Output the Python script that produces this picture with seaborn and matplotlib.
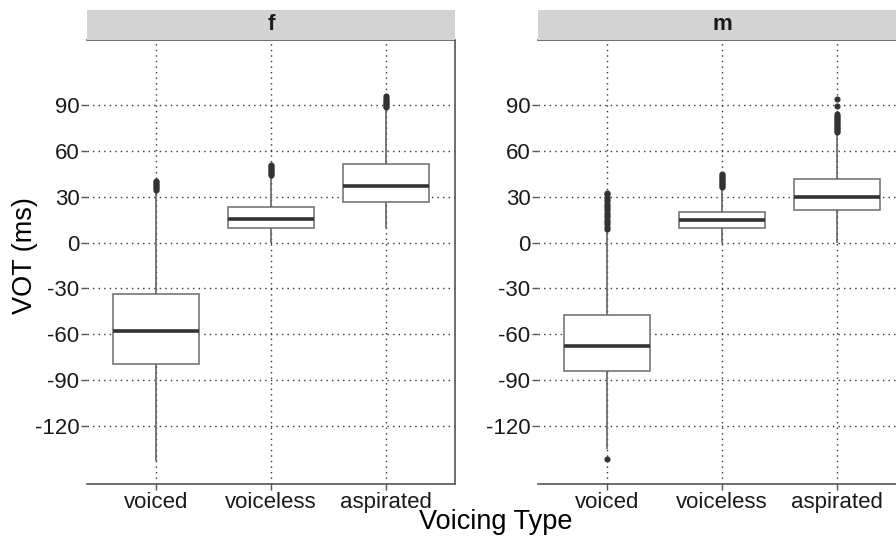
import numpy as np
import pandas as pd
import matplotlib
matplotlib.use("Agg")
import matplotlib.pyplot as plt
import seaborn as sns

# ---- data (ms) ----
genders = ["f", "m"]
voicing = ["voiced", "voiceless", "aspirated"]

# five-number summaries per gender, in order of `voicing`
f_whisk_lo = [-142.6, 0.0, 9.6]
f_q1 = [-79.1, 9.8, 26.7]
f_median = [-57.8, 15.2, 37.0]
f_q3 = [-33.9, 23.3, 51.3]
f_whisk_hi = [31.5, 42.5, 87.5]
f_outliers = [
    [33.5, 34.5, 35.5, 36.5, 37.5, 38.5, 39.5, 40.5],
    [44.0, 45.0, 46.0, 47.0, 48.0, 49.0, 50.0, 51.0],
    [88.5, 89.5, 90.5, 91.5, 92.5, 93.5, 94.5, 95.5],
]

m_whisk_lo = [-135.0, 0.0, 0.0]
m_q1 = [-84.1, 9.8, 21.5]
m_median = [-67.8, 14.5, 30.0]
m_q3 = [-47.2, 20.2, 41.3]
m_whisk_hi = [7.8, 34.5, 70.5]
m_outliers = [
    [-141.5, 9.0, 10.5, 12.0, 13.5, 15.0, 16.5, 18.0, 19.5, 21.0, 22.5,
     24.0, 25.5, 27.0, 28.5, 30.0, 31.5, 32.5],
    [36.0, 37.0, 38.0, 39.0, 40.0, 41.0, 42.0, 43.0, 44.0, 45.0],
    [72.0, 73.0, 74.0, 75.0, 76.0, 77.0, 78.0, 79.0, 80.0, 81.0, 82.0,
     83.0, 84.0, 89.0, 93.8],
]

yticks = [-120, -90, -60, -30, 0, 30, 60, 90]

summaries = {
    "f": (f_whisk_lo, f_q1, f_median, f_q3, f_whisk_hi, f_outliers),
    "m": (m_whisk_lo, m_q1, m_median, m_q3, m_whisk_hi, m_outliers),
}

# Build observation rows that reproduce each summary exactly
# (quartile values are repeated so the quantiles land on them).
rows = []
REP = 30
for g in genders:
    lo, q1, med, q3, hi, outs = summaries[g]
    for i, v in enumerate(voicing):
        vals = [lo[i]] + [q1[i]] * REP + [med[i]] * REP + [q3[i]] * REP + [hi[i]] + outs[i]
        for x in vals:
            rows.append((g, v, x))
df = pd.DataFrame(rows, columns=["gender", "type", "vot"])

# ---- style ----
sns.set_theme(style="white")
plt.rcParams["font.family"] = ["Liberation Sans", "DejaVu Sans"]

W, H = 896, 538
fig = plt.figure(figsize=(W / 100, H / 100), dpi=100)
fig.patch.set_facecolor("white")

panel_w = 368
panel_top, panel_bot = 40, 484
lefts = [87, 538]

for g, lx in zip(genders, lefts):
    ax = fig.add_axes([lx / W, (H - panel_bot) / H, panel_w / W, (panel_bot - panel_top) / H])
    sub = df[df["gender"] == g]
    sns.boxplot(
        data=sub, x="type", y="vot", order=voicing, ax=ax,
        width=0.75, color="white", linecolor="#666666", linewidth=1.0,
        showcaps=False, fliersize=3.4,
        flierprops=dict(marker="o", markerfacecolor="#333333",
                        markeredgecolor="#333333"),
        medianprops=dict(color="#333333", linewidth=2.6),
        whiskerprops=dict(color="#666666", linewidth=1.2),
        boxprops=dict(edgecolor="#777777", linewidth=1.2),
    )
    ax.set_xlim(-0.6, 2.6)
    ax.set_ylim(-157.8, 132.4)
    ax.set_yticks(yticks)
    ax.set_yticklabels([str(t) for t in yticks])
    ax.set_xlabel("")
    ax.set_ylabel("")
    ax.set_facecolor("white")
    ax.set_axisbelow(True)
    ax.grid(True, which="major", linestyle=(0, (1, 3)), color="#333333", linewidth=1.0)
    ax.tick_params(axis="both", which="both", direction="out", length=4, width=1,
                   color="#555555", labelsize=16, labelcolor="#1a1a1a", pad=1.5,
                   left=True, bottom=True)
    ax.spines["left"].set_visible(False)
    for side in ["right", "bottom", "top"]:
        ax.spines[side].set_visible(True)
        ax.spines[side].set_color("#555555")
        ax.spines[side].set_linewidth(1.2)

    # facet strip
    sax = fig.add_axes([lx / W, (H - panel_top) / H, panel_w / W, 30 / H])
    sax.set_facecolor("#d3d3d3")
    sax.set_xticks([])
    sax.set_yticks([])
    for s in sax.spines.values():
        s.set_visible(False)
    sax.text(0.5, 0.5, g, ha="center", va="center", fontsize=16,
             fontweight="bold", color="#1a1a1a", transform=sax.transAxes)

fig.text(496 / W, (H - 522) / H, "Voicing Type", ha="center", va="center",
         fontsize=19.5, color="black")
fig.text(25 / W, (H - 256) / H, "VOT (ms)", ha="center", va="center",
         rotation=90, fontsize=19.5, color="black")

fig.savefig("out.png", dpi=100, facecolor="white")
